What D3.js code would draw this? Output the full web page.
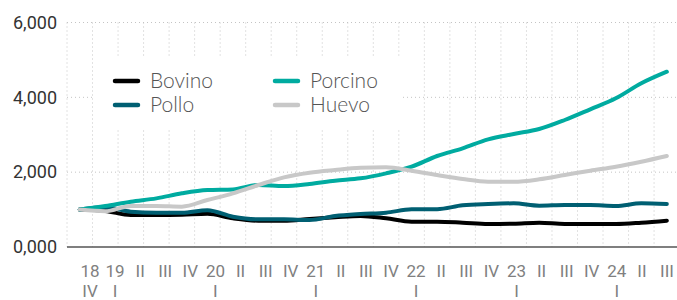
<!DOCTYPE html>
<html>
<head>
<meta charset="utf-8">
<script src="https://cdn.jsdelivr.net/npm/d3@7"></script>
<style>
  body { margin: 0; background: #fff; }
  svg { display: block; }
</style>
</head>
<body>
<div id="chart"></div>
<script>
// trimestres 2018 IV .. 2024 III
const quarters = ["2018-IV","2019-I","2019-II","2019-III","2019-IV","2020-I","2020-II","2020-III","2020-IV",
  "2021-I","2021-II","2021-III","2021-IV","2022-I","2022-II","2022-III","2022-IV",
  "2023-I","2023-II","2023-III","2023-IV","2024-I","2024-II","2024-III"];
const topLabels = ["18","19","II","III","IV","20","II","III","IV","21","II","III","IV","22","II","III","IV","23","II","III","IV","24","II","III"];
const bottomLabels = ["IV","I","","","","I","","","","I","","","","I","","","","I","","","","I","",""];

const bovino  = [1000, 965, 855, 855, 864, 890, 767, 703, 703, 750, 794, 830, 767, 677, 677, 650, 615, 623, 650, 615, 615, 615, 650, 703];
const pollo   = [1000,1060, 944, 918, 918, 985, 810, 739, 739, 722, 828, 882, 918,1007,1010,1113,1149,1167,1105,1122,1122,1096,1167,1149];
const porcino = [1000,1096,1211,1300,1435,1523,1540,1657,1630,1684,1772,1835,1969,2147,2432,2637,2877,3020,3153,3394,3680,3974,4375,4685];
const huevo   = [1000, 955,1096,1096,1077,1256,1435,1657,1862,1986,2058,2115,2130,2040,1924,1817,1746,1746,1809,1924,2040,2147,2280,2432];

const yTicks = [0, 2000, 4000, 6000];
const yTickLabels = ["0,000","2,000","4,000","6,000"];

const series = [
  { name: "Bovino",  values: bovino,  color: "#000000" },
  { name: "Pollo",   values: pollo,   color: "#005f72" },
  { name: "Porcino", values: porcino, color: "#00aba0" },
  { name: "Huevo",   values: huevo,   color: "#c8c8c8" }
];

const width = 677, height = 300;
const svg = d3.select("#chart").append("svg")
  .attr("width", width).attr("height", height);

// escalas
const x = d3.scaleBand().domain(quarters).range([67, 679.6]);
const xl = d3.scalePoint().domain(quarters).range([90, 667]);
const y = d3.scaleLinear().domain([0, 6000]).range([247, 22.5]);

// grilla vertical (bordes de cada banda)
svg.append("g")
  .selectAll("line")
  .data(quarters)
  .enter().append("line")
  .attr("x1", d => x(d)).attr("x2", d => x(d))
  .attr("y1", y(6000)).attr("y2", y(0))
  .attr("stroke", "#c4c4c4")
  .attr("stroke-width", 1)
  .attr("stroke-dasharray", "1,3");

// grilla horizontal
svg.append("g")
  .selectAll("line")
  .data(yTicks.filter(d => d > 0))
  .enter().append("line")
  .attr("x1", 67).attr("x2", width)
  .attr("y1", d => y(d)).attr("y2", d => y(d))
  .attr("stroke", "#c4c4c4")
  .attr("stroke-width", 1)
  .attr("stroke-dasharray", "1,3");

// eje cero
svg.append("line")
  .attr("x1", 67).attr("x2", width)
  .attr("y1", y(0)).attr("y2", y(0))
  .attr("stroke", "#555")
  .attr("stroke-width", 1.6);

// etiquetas eje Y
svg.append("g")
  .selectAll("text")
  .data(yTicks)
  .enter().append("text")
  .attr("x", 57)
  .attr("y", d => y(d))
  .attr("dy", "0.35em")
  .attr("text-anchor", "end")
  .attr("font-family", "Roboto, 'Liberation Sans', sans-serif")
  .attr("font-size", 18)
  .attr("fill", "#333")
  .text((d, i) => yTickLabels[i]);

// etiquetas eje X
svg.append("g")
  .selectAll("text")
  .data(quarters)
  .enter().append("text")
  .attr("x", d => xl(d))
  .attr("y", 277)
  .attr("text-anchor", "middle")
  .attr("font-family", "Roboto, 'Liberation Sans', sans-serif")
  .attr("font-size", 17)
  .attr("fill", "#808080")
  .text((d, i) => topLabels[i]);

svg.append("g")
  .selectAll("text")
  .data(quarters)
  .enter().append("text")
  .attr("x", d => xl(d))
  .attr("y", 296.5)
  .attr("text-anchor", "middle")
  .attr("font-family", "Roboto, 'Liberation Sans', sans-serif")
  .attr("font-size", 17)
  .attr("fill", "#808080")
  .text((d, i) => bottomLabels[i]);

// leyenda (caja blanca tapando la grilla)
svg.append("rect")
  .attr("x", 95).attr("y", 58)
  .attr("width", 305).attr("height", 72)
  .attr("fill", "#fff");

const legend = svg.append("g")
  .selectAll("g")
  .data(series)
  .enter().append("g")
  .attr("transform", (d, i) => `translate(${i < 2 ? 115 : 275},${i % 2 === 0 ? 81 : 105})`);

legend.append("line")
  .attr("x1", 0).attr("x2", 23)
  .attr("stroke", d => d.color)
  .attr("stroke-width", 4.5)
  .attr("stroke-linecap", "round");

legend.append("text")
  .attr("x", 35)
  .attr("y", 7)
  .attr("font-family", "Lato, 'Open Sans', sans-serif")
  .attr("font-weight", 300)
  .attr("font-size", 21)
  .attr("fill", "#555")
  .text(d => d.name);

// líneas
const line = d3.line()
  .x((d, i) => x(quarters[i]) + x.bandwidth() / 2)
  .y(d => y(d))
  .curve(d3.curveMonotoneX);

svg.append("g")
  .selectAll("path")
  .data(series)
  .enter().append("path")
  .attr("d", d => line(d.values))
  .attr("fill", "none")
  .attr("stroke", d => d.color)
  .attr("stroke-width", 4)
  .attr("stroke-linecap", "round")
  .attr("stroke-linejoin", "round");
</script>
</body>
</html>
